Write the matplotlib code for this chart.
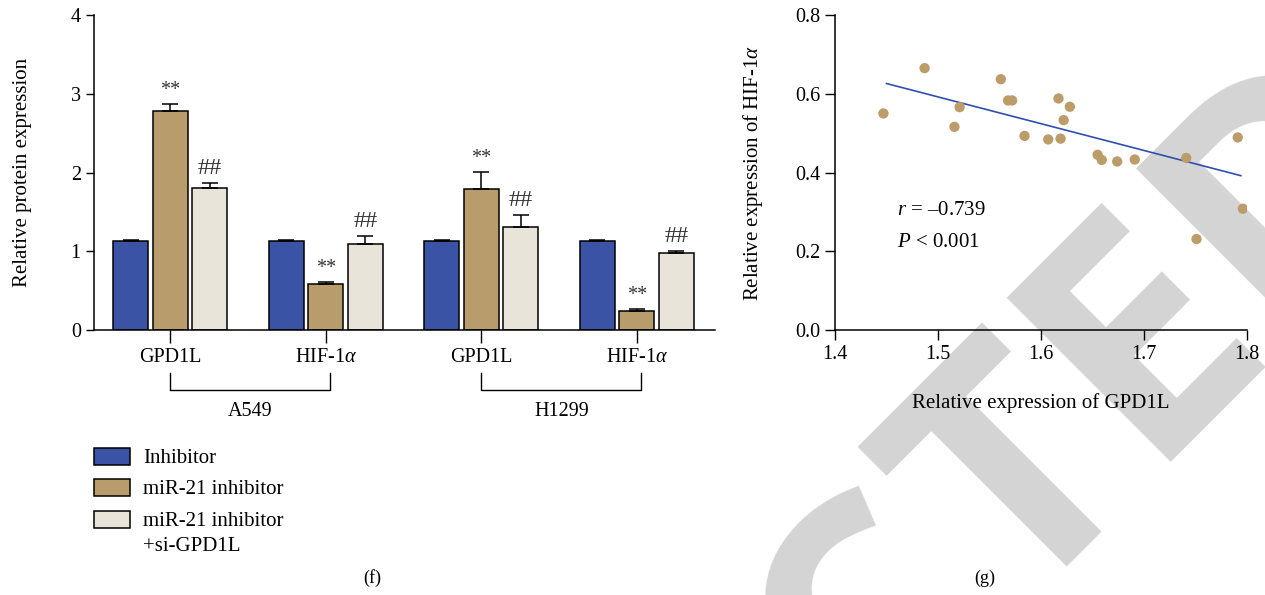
import matplotlib
matplotlib.use("Agg")
import matplotlib.pyplot as plt
import numpy as np
from matplotlib.patches import Rectangle
from matplotlib.transforms import blended_transform_factory

plt.rcParams["font.family"] = ["Liberation Serif", "DejaVu Serif"]
plt.rcParams["mathtext.fontset"] = "custom"
plt.rcParams["mathtext.rm"] = "Liberation Serif"
plt.rcParams["mathtext.it"] = "Liberation Serif:italic"

# (f) western blot quantification
gene_labels = ["GPD1L", r"HIF-1$\alpha$", "GPD1L", r"HIF-1$\alpha$"]
cell_lines = ["A549", "H1299"]
series_names = ["Inhibitor", "miR-21 inhibitor", "miR-21 inhibitor\n+si-GPD1L"]
inhibitor = [1.13, 1.13, 1.13, 1.13]
inhibitor_err = [0.015, 0.015, 0.015, 0.015]
mir21 = [2.78, 0.585, 1.795, 0.245]
mir21_err = [0.09, 0.025, 0.21, 0.022]
mir21_si = [1.80, 1.09, 1.31, 0.98]
mir21_si_err = [0.063, 0.10, 0.144, 0.017]
mir21_marks = ["**", "**", "**", "**"]
mir21_si_marks = ["##", "##", "##", "##"]

# (g) correlation
gpd1l = [1.447, 1.487, 1.516, 1.521, 1.561, 1.568, 1.572, 1.584, 1.607, 1.617, 1.619,
         1.622, 1.628, 1.655, 1.659, 1.674, 1.691, 1.741, 1.751, 1.791, 1.796]
hif1a = [0.550, 0.665, 0.516, 0.566, 0.637, 0.583, 0.583, 0.493, 0.484, 0.588, 0.486,
         0.533, 0.567, 0.445, 0.432, 0.428, 0.433, 0.437, 0.231, 0.489, 0.308]
fit_x = [1.450, 1.794]
fit_y = [0.626, 0.392]

colors = ["#3b53a5", "#b99c6b", "#e8e4da"]
W, H = 1265, 595

fig = plt.figure(figsize=(12.65, 5.95), dpi=100)

# watermark (RETRACTED), drawn behind everything
wm = dict(rotation=45, rotation_mode="anchor", va="baseline", fontsize=235,
          family="Open Sans", weight="bold", color="#d4d4d4", zorder=-1)
fig.text(1015 / W, 1 - 611 / H, "TED", ha="left", **wm)
fig.text(1015 / W, 1 - 611 / H, "RETRAC", ha="right", **wm)

# ---- panel f ----
ax1 = fig.add_axes([94 / W, 1 - 330 / H, 621 / W, 315 / H])
ax1.patch.set_alpha(0)
x = np.arange(len(gene_labels))
w = 0.225
off = 0.255
all_vals = [inhibitor, mir21, mir21_si]
all_errs = [inhibitor_err, mir21_err, mir21_si_err]
for i, (vals, errs, col) in enumerate(zip(all_vals, all_errs, colors)):
    ax1.bar(x + (i - 1) * off, vals, w, color=col, edgecolor="black", linewidth=1.1,
            yerr=[np.zeros(len(errs)), errs], capsize=5.5,
            error_kw=dict(elinewidth=1.1, capthick=1.1, ecolor="black"), zorder=2)

for marks, vals, errs, i, fs in [(mir21_marks, mir21, mir21_err, 1, 14.5),
                                 (mir21_si_marks, mir21_si, mir21_si_err, 2, 17.5)]:
    for xi, m, v, e in zip(x, marks, vals, errs):
        ax1.annotate(m, (xi + (i - 1) * off, v + e), xytext=(0, 3), textcoords="offset points",
                     ha="center", va="bottom", fontsize=fs, color="#333333")

ax1.set_xlim(-0.49, 3.503)
ax1.set_ylim(0, 4)
ax1.set_yticks([0, 1, 2, 3, 4])
ax1.set_xticks(x)
ax1.set_xticklabels(gene_labels)
ax1.tick_params(axis="x", length=9, width=1, pad=4, labelsize=14.5)
ax1.tick_params(axis="y", length=6, width=1, labelsize=14.5)
for s in ["top", "right"]:
    ax1.spines[s].set_visible(False)
for s in ["left", "bottom"]:
    ax1.spines[s].set_linewidth(1.1)
ax1.set_ylabel("Relative protein expression", fontsize=15)
ax1.yaxis.set_label_coords(-0.1, 0.5)

trans = blended_transform_factory(ax1.transData, ax1.transAxes)
for k, name in enumerate(cell_lines):
    x0, x1 = x[2 * k], x[2 * k + 1] + 0.03
    ax1.plot([x0, x0, x1, x1], [-0.137, -0.19, -0.19, -0.137], color="black", lw=1,
             transform=trans, clip_on=False)
    ax1.text((x0 + x1) / 2, -0.258, name, transform=trans, ha="center", va="center", fontsize=14.5)

# legend, drawn by hand so the swatch sits on the first line of a two-line label
row_y = [457, 488, 520]
for name, col, ry in zip(series_names, colors, row_y):
    fig.add_artist(Rectangle((94 / W, 1 - (ry + 8) / H), 36 / W, 17 / H, facecolor=col,
                             edgecolor="black", linewidth=1.1, transform=fig.transFigure))
    for j, line in enumerate(name.split("\n")):
        fig.text(143 / W, 1 - (ry + 6 + 25 * j) / H, line, ha="left", va="baseline", fontsize=15)

fig.text(372 / W, 1 - 578 / H, "(f)", ha="center", va="center", fontsize=13)

# ---- panel g ----
ax2 = fig.add_axes([835 / W, 1 - 330 / H, 412 / W, 315 / H])
ax2.patch.set_alpha(0)
ax2.scatter(gpd1l, hif1a, s=55, color="#bc9c69", edgecolors="none", zorder=3)
ax2.plot(fit_x, fit_y, color="#2f4fb0", lw=1.2, zorder=2)
ax2.set_xlim(1.4, 1.8)
ax2.set_ylim(0, 0.8)
ax2.set_xticks([1.4, 1.5, 1.6, 1.7, 1.8])
ax2.set_yticks([0.0, 0.2, 0.4, 0.6, 0.8])
ax2.xaxis.set_major_formatter(matplotlib.ticker.FormatStrFormatter("%.1f"))
ax2.yaxis.set_major_formatter(matplotlib.ticker.FormatStrFormatter("%.1f"))
ax2.tick_params(length=7, width=1, labelsize=14.5)
for s in ["top", "right"]:
    ax2.spines[s].set_visible(False)
for s in ["left", "bottom"]:
    ax2.spines[s].set_linewidth(1.1)
ax2.set_xlabel("Relative expression of GPD1L", fontsize=15)
ax2.xaxis.set_label_coords(0.5, -0.2)
ax2.set_ylabel(r"Relative expression of HIF-1$\alpha$", fontsize=15)
ax2.yaxis.set_label_coords(-0.17, 0.5)
ax2.text(1.46, 0.292, "$r$ = \u20130.739", fontsize=15)
ax2.text(1.46, 0.212, "$P$ < 0.001", fontsize=15)

fig.text(985 / W, 1 - 578 / H, "(g)", ha="center", va="center", fontsize=13)

fig.savefig("out.png", dpi=100)
